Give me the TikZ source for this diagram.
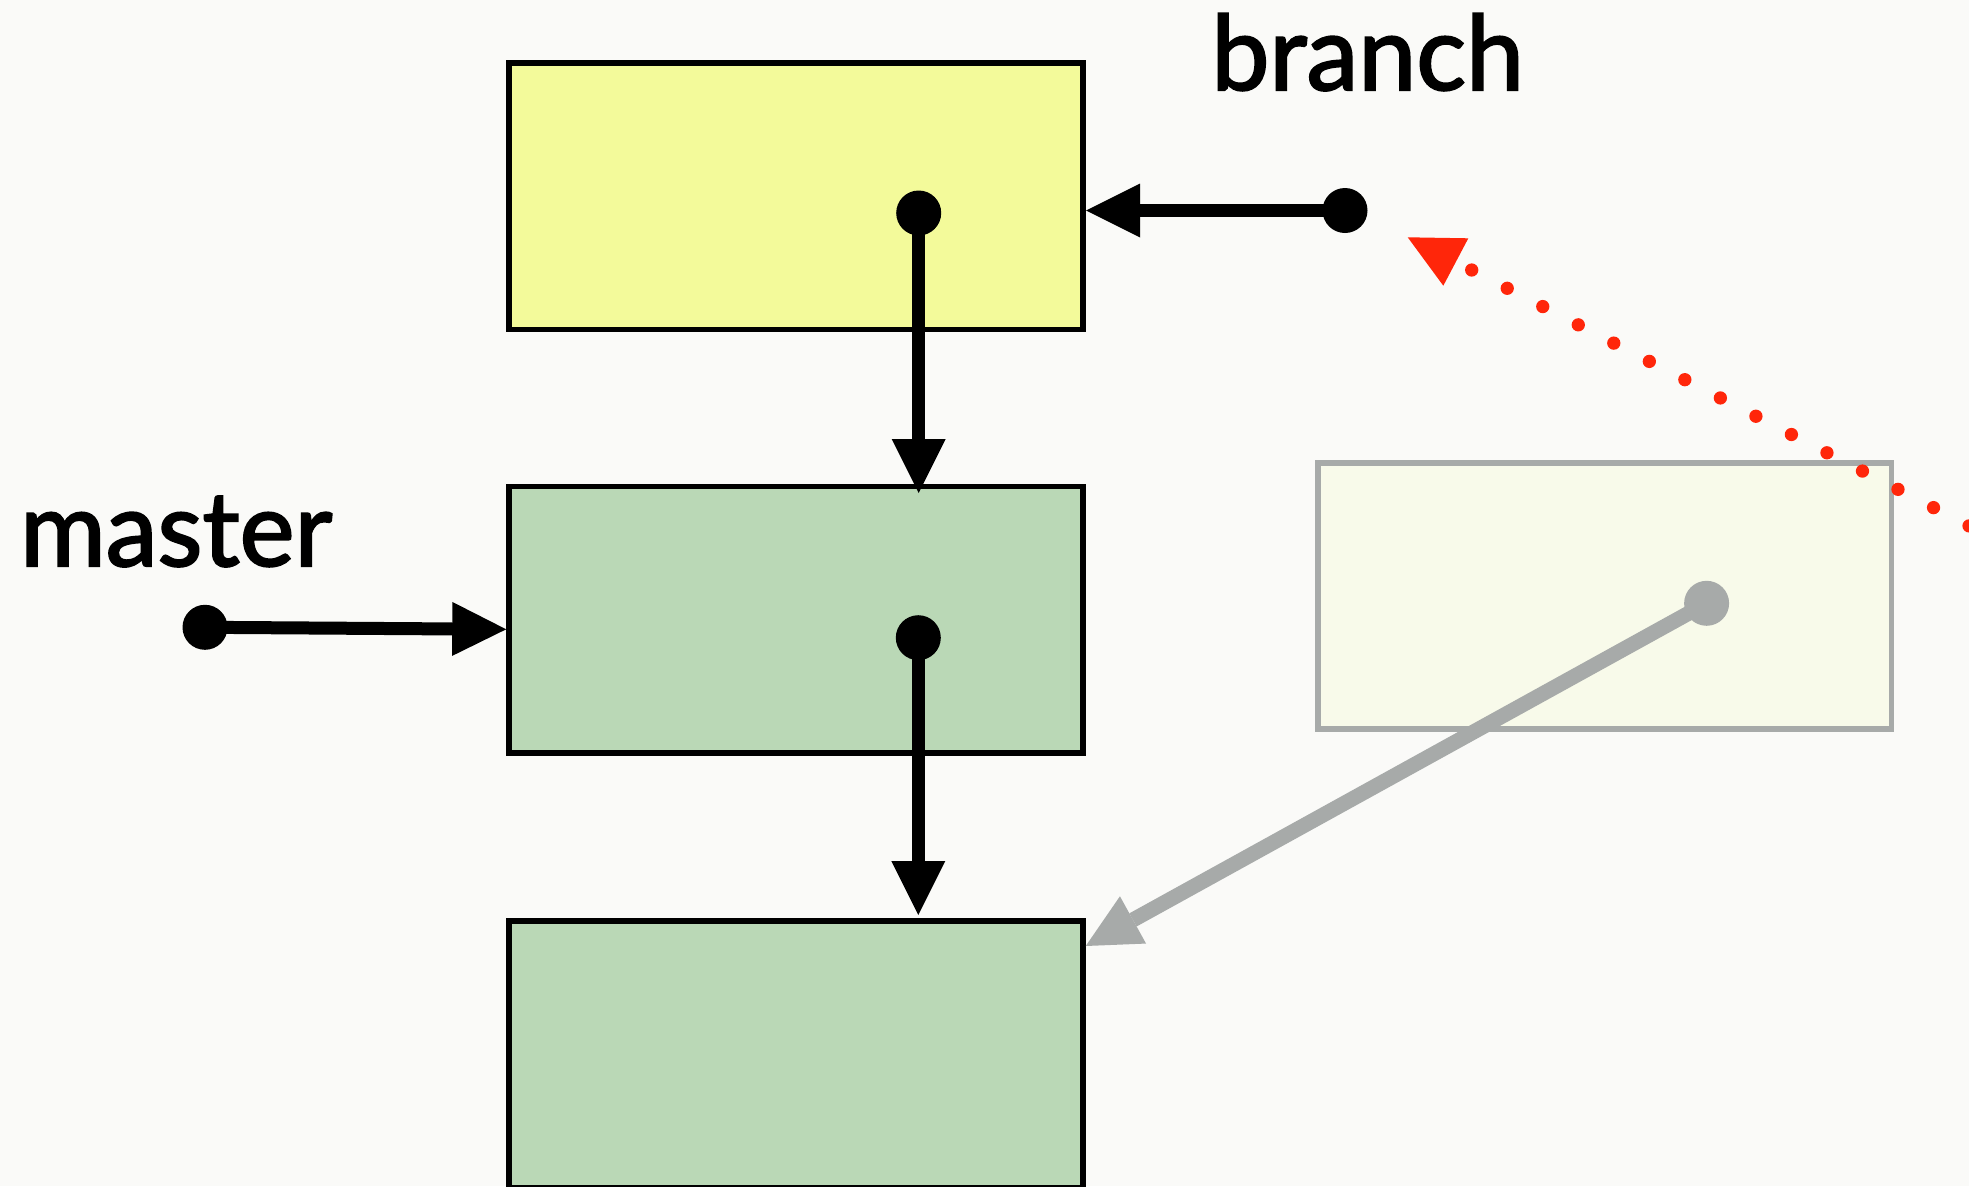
\documentclass[tikz,border=0pt]{standalone}
\usepackage{fontspec}
\setmainfont{Lato}
\newfontfamily\lblfont{Lato}[FakeBold=2]
\usetikzlibrary{arrows.meta}
\definecolor{bgc}{RGB}{250,250,248}
\definecolor{yelf}{RGB}{243,250,154}
\definecolor{grnf}{RGB}{186,216,182}
\definecolor{fadef}{RGB}{248,250,234}
\definecolor{greyc}{RGB}{167,170,169}
\definecolor{redc}{RGB}{255,38,10}
\tikzset{
  commit/.style={draw=black, line width=5.5pt, rectangle, inner sep=0pt,
    minimum width=574pt, minimum height=266.5pt},
  ghost/.style={draw=greyc, line width=5.5pt, rectangle, inner sep=0pt,
    minimum width=573.5pt, minimum height=266pt, fill=fadef},
  dotn/.style={circle, fill=black, inner sep=0pt, minimum size=45pt},
  arr/.style={line width=13pt, -{Triangle[length=54pt,width=54pt,line width=0pt]}},
  lbl/.style={inner sep=0pt, anchor=base west, font=\lblfont\fontsize{104}{110}\selectfont}
}
\begin{document}
\begin{tikzpicture}[x=1pt,y=-1pt]
\useasboundingbox (0,0) rectangle (1969,1186);
\fill[bgc] (0,0) rectangle (1969,1186);
% commits
\node[commit, fill=yelf] (c1) at (795.75,196) {};
\node[commit, fill=grnf] (c2) at (795.75,619.75) {};
\node[commit, fill=grnf] (c3) at (795.75,1054.25) {};
\node[ghost] (g) at (1604.5,596) {};
% dots
\node[dotn] (d1) at (918.7,213) {};
\node[dotn] (d2) at (918.3,637.7) {};
\node[dotn] (db) at (1345,210.5) {};
\node[dotn] (dm) at (205,627.3) {};
\node[dotn, fill=greyc] (dg) at (1706.6,603.3) {};
% arrow tips
\coordinate (t1) at (918.7,493);
\coordinate (t2) at (918.3,915);
\coordinate (tb) at (1086,210.5);
\coordinate (tm) at (506.2,629.3);
\coordinate (tg) at (1085.7,946);
\draw[arr] (d1.center) -- (t1);
\draw[arr] (d2.center) -- (t2);
\draw[arr] (db.center) -- (tb);
\draw[arr] (dm.center) -- (tm);
\draw[arr, greyc, line width=15pt] (dg.center) -- (tg);
% labels
\node[lbl] (lb) at (1211,90) {branch};
\node[lbl] (lm) at (20,566) {master};
% red dotted
\coordinate (rs) at (1471.7,270);
\coordinate (re) at (2004.2,544.0);
\draw[redc, line width=13.3pt, line cap=round, dash pattern=on 0pt off 39.95pt] (rs) -- (re);
\fill[redc] (1407.7,237.3) -- (1468.3,238.3) -- (1443.3,285.7) -- cycle;
\end{tikzpicture}
\end{document}
